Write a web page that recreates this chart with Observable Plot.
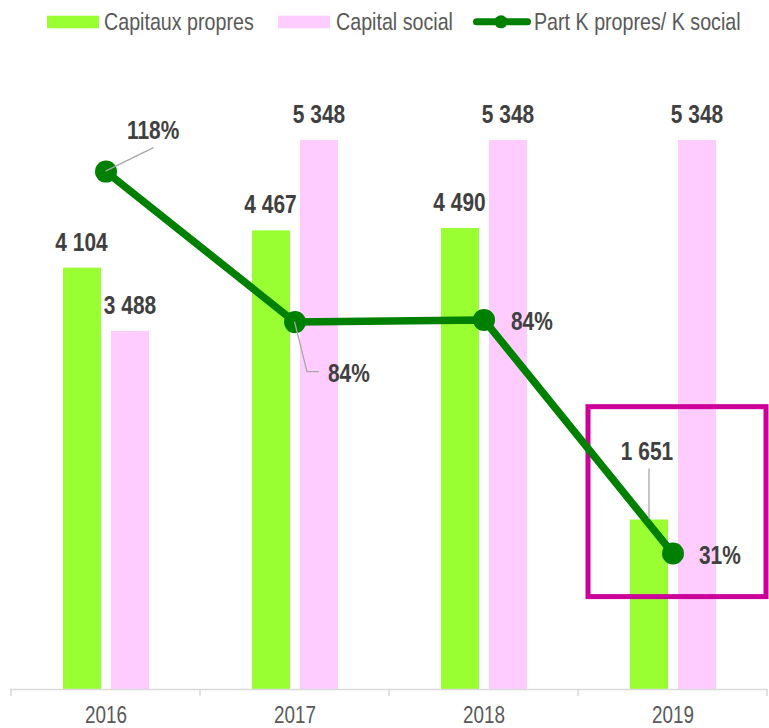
<!DOCTYPE html>
<html><head><meta charset="utf-8">
<script src="https://cdn.jsdelivr.net/npm/d3@7"></script>
<script src="https://cdn.jsdelivr.net/npm/@observablehq/plot@0.6"></script>
<style>
body{margin:0;background:#fff;}
#chart{width:769px;}
svg{display:block;}
</style></head><body><div id="chart"></div>
<script>
// ---- data ----
const years = ["2016", "2017", "2018", "2019"];
const capitauxPropres = [4104, 4467, 4490, 1651];
const capitalSocial = [3488, 5348, 5348, 5348];
const partPct = [117.7, 83.5, 84.0, 30.9];
const seriesNames = ["Capitaux propres", "Capital social", "Part K propres/ K social"];
const highlightYear = "2019";
const highlightRange = [900, 2750];
const yMax = 6000, pctMax = 140;

// ---- setup ----
const FONT = "'Liberation Sans',Arial,sans-serif";
const NARROW = 0.82; // emulate Arial Narrow
const GREEN = "#99ff33", PINK = "#ffccff", LINE = "#008000", MAGENTA = "#cc0099";
const LABEL = "#404040", GREY = "#595959";
const fr = d3.formatLocale({decimal: ",", thousands: " ", grouping: [3], currency: ["", " €"]});
const fmtNum = fr.format(",d");
const toLeft = p => p / pctMax * yMax;
const rows = years.map((year, i) => ({year, cp: capitauxPropres[i], cs: capitalSocial[i], pct: partPct[i], pctY: toLeft(partPct[i])}));

// legend
const leg = d3.create("svg").attr("width", 769).attr("height", 44).style("display", "block")
  .style("font-family", FONT).style("font-size", "24px");
const legText = (x, s) => leg.append("text").attr("transform", `translate(${x},30) scale(${NARROW},1)`).attr("fill", GREY).text(s);
leg.append("rect").attr("x", 47).attr("y", 15.7).attr("width", 52).attr("height", 12.6).attr("fill", GREEN);
legText(104, seriesNames[0]);
leg.append("rect").attr("x", 278).attr("y", 15.7).attr("width", 52).attr("height", 12.6).attr("fill", PINK);
legText(336, seriesNames[1]);
leg.append("line").attr("x1", 476.5).attr("x2", 527.5).attr("y1", 21.8).attr("y2", 21.8)
  .attr("stroke", LINE).attr("stroke-width", 7).attr("stroke-linecap", "round");
leg.append("circle").attr("cx", 501).attr("cy", 21.8).attr("r", 6.5).attr("fill", LINE);
legText(534, seriesNames[2]);

// custom marks: axis boundary ticks and leader lines
function bandInfo(scales, dimensions) {
  const x = scales.x;
  const bw = x.bandwidth ? x.bandwidth() : (dimensions.width - dimensions.marginLeft - dimensions.marginRight) / years.length;
  return {x, bw};
}
function axisTicks(index, scales, values, dimensions) {
  const {x, bw} = bandInfo(scales, dimensions);
  const y0 = scales.y(0);
  const g = d3.create("svg:g").attr("stroke", "#d9d9d9").attr("stroke-width", 1.5);
  const pos = years.map(yr => x(yr)).concat([x(years[years.length - 1]) + bw]);
  for (const p of pos) g.append("line").attr("x1", p).attr("x2", p).attr("y1", y0).attr("y2", y0 + 7);
  return g.node();
}
function leaders(index, scales, values, dimensions) {
  const {x, bw} = bandInfo(scales, dimensions);
  const y = scales.y;
  const byYear = Object.fromEntries(rows.map(d => [d.year, d]));
  const g = d3.create("svg:g").attr("fill", "none").attr("stroke", "#a6a6a6").attr("stroke-width", 1.3);
  let d = byYear["2016"];
  g.append("path").attr("d", `M${x(d.year) + bw / 2},${y(d.pctY)}l48,-23.5`);
  d = byYear["2017"];
  g.append("path").attr("d", `M${x(d.year) + bw / 2},${y(d.pctY)}l12.5,50h12`);
  d = byYear[highlightYear];
  const gx = x(d.year) + 52 + (bw - 52 - 99) / 2;
  g.append("path").attr("d", `M${gx},${y(d.cp) - 1}V${y(d.cp) - 51}`);
  return g.node();
}

const pctOffsets = {"2016": [21, -33], "2017": [33, 59.5], "2018": [27, 10], "2019": [26, 10]};
const textBase = {fontWeight: "bold", fontSize: 25.5, fill: LABEL, fontFamily: FONT, lineAnchor: "bottom"};

const plot = Plot.plot({
  width: 769, height: 684,
  marginLeft: 10, marginRight: 2, marginTop: 29, marginBottom: 39,
  x: {type: "band", domain: years, padding: 0, axis: null},
  y: {domain: [0, yMax], axis: null},
  style: {fontFamily: FONT, background: "white", overflow: "visible"},
  marks: [
    Plot.barY(rows, {x: "year", y: "cp", fill: GREEN, insetLeft: 52, insetRight: 99}),
    Plot.barY(rows, {x: "year", y: "cs", fill: PINK, insetLeft: 100, insetRight: 51}),
    Plot.ruleY([0], {stroke: "#d9d9d9", strokeWidth: 1.5}),
    axisTicks,
    Plot.axisX({tickSize: 0, tickPadding: 17.5, fontSize: 23, color: GREY, fontFamily: FONT, label: null}),
    Plot.barY([{year: highlightYear, y1: highlightRange[0], y2: highlightRange[1]}],
      {x: "year", y1: "y1", y2: "y2", fill: "none", stroke: MAGENTA, strokeWidth: 5, insetLeft: 10, insetRight: 1}),
    Plot.line(rows, {x: "year", y: "pctY", stroke: LINE, strokeWidth: 7.5, strokeLinejoin: "round"}),
    Plot.dot(rows, {x: "year", y: "pctY", r: 11, fill: LINE}),
    leaders,
    Plot.text(rows.filter(d => d.year !== highlightYear), {x: "year", y: "cp", text: d => fmtNum(d.cp), dx: -24.5, dy: -17.5, ...textBase}),
    Plot.text(rows.filter(d => d.year === highlightYear), {x: "year", y: "cp", text: d => fmtNum(d.cp), dx: -26, dy: -60, ...textBase}),
    Plot.text(rows, {x: "year", y: "cs", text: d => fmtNum(d.cs), dx: 24, dy: -17.5, ...textBase}),
    ...years.map(yr => Plot.text(rows.filter(d => d.year === yr), {
      x: "year", y: "pctY", text: d => Math.round(d.pct) + "%",
      dx: pctOffsets[yr][0], dy: pctOffsets[yr][1], textAnchor: "start", ...textBase
    }))
  ]
});

// condense all text horizontally about its anchor (Arial Narrow look)
plot.querySelectorAll("text").forEach(t => {
  let tr = t.getAttribute("transform") || "";
  const x = t.getAttribute("x"), y = t.getAttribute("y");
  if (x != null && !isNaN(+x)) {
    const yy = (y != null && !isNaN(+y)) ? +y : 0;
    tr += ` translate(${+x},${yy})`;
    t.removeAttribute("x");
    if (y != null && !isNaN(+y)) t.removeAttribute("y");
  }
  t.setAttribute("transform", (tr + ` scale(${NARROW},1)`).trim());
});

const root = document.getElementById("chart");
root.appendChild(leg.node());
root.appendChild(plot);
</script>
</body></html>
